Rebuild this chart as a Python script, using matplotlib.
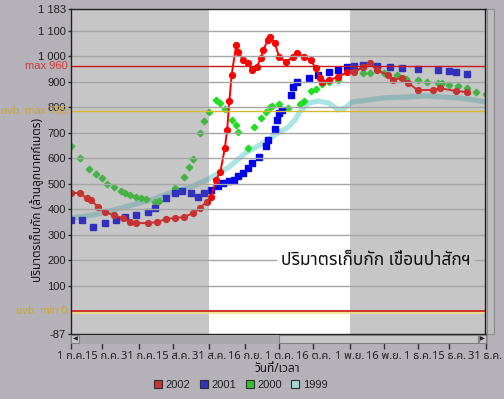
import matplotlib
matplotlib.use("Agg")
import matplotlib.pyplot as plt
from matplotlib import font_manager
from matplotlib.ft2font import FT2Font
from matplotlib.patches import Rectangle
from matplotlib.lines import Line2D

# ---------------- data ----------------
x_tick_days = [0, 14, 30, 45, 61, 77, 92, 107, 123, 138, 153, 167, 183]
x_tick_labels = ["1 ก.ค.", "15 ก.ค.", "31 ก.ค.", "15 ส.ค.", "31 ส.ค.", "16 ก.ย.", "1 ต.ค.",
                 "16 ต.ค.", "1 พ.ย.", "16 พ.ย.", "1 ธ.ค.", "15 ธ.ค.", "31 ธ.ค."]
y_tick_values = [-87, 100, 200, 300, 400, 500, 600, 700, 800, 900, 1000, 1100, 1183]
y_tick_labels = ["-87", "100", "200", "300", "400", "500", "600", "700", "800", "900",
                 "1 000", "1 100", "1 183"]

days_2002 = [0, 4, 7, 9, 12, 15, 19, 23, 26, 29, 34, 38, 42, 46, 50, 54, 57, 60, 62, 64, 66,
             68, 69, 70, 71, 73, 74, 76, 78, 80, 82, 84, 85, 87, 88, 90, 92, 95, 98, 100, 103,
             106, 108, 110, 111, 114, 118, 122, 125, 129, 132, 135, 140, 142, 146, 149, 153,
             160, 163, 170, 175]
vals_2002 = [464, 464, 444, 436, 409, 389, 377, 366, 350, 346, 346, 350, 362, 366, 370, 385,
             405, 429, 448, 515, 546, 640, 710, 824, 926, 1043, 1016, 984, 973, 945, 957, 992,
             1024, 1063, 1074, 1051, 996, 977, 996, 1012, 996, 984, 953, 914, 898, 906, 918,
             937, 937, 957, 973, 945, 926, 906, 914, 894, 867, 867, 874, 863, 859]

days_2001 = [0, 5, 10, 15, 20, 24, 29, 34, 37, 42, 46, 49, 53, 56, 59, 62, 65, 67, 70, 72, 74,
             76, 78, 80, 83, 86, 87, 90, 91, 92, 93, 97, 98, 100, 105, 109, 114, 118, 122, 125,
             129, 135, 141, 146, 153, 162, 167, 170, 175]
vals_2001 = [358, 358, 331, 346, 358, 370, 378, 389, 405, 444, 464, 472, 464, 448, 464, 476,
             490, 503, 510, 515, 530, 542, 561, 581, 604, 648, 671, 714, 750, 777, 789, 847,
             879, 898, 914, 926, 937, 945, 957, 961, 965, 961, 957, 953, 949, 945, 941, 937, 929]

days_2000 = [0, 4, 8, 11, 14, 16, 19, 22, 24, 26, 29, 31, 33, 37, 39, 46, 50, 52, 54, 57, 59,
             61, 64, 66, 68, 71, 73, 74, 78, 81, 84, 86, 88, 89, 92, 96, 101, 103, 106, 108,
             111, 114, 118, 125, 129, 132, 138, 144, 148, 153, 157, 162, 164, 167, 171, 175,
             179, 183]
vals_2000 = [648, 600, 557, 538, 523, 499, 487, 472, 464, 456, 448, 444, 440, 429, 432, 483,
             526, 566, 596, 698, 745, 781, 828, 816, 793, 750, 730, 703, 640, 722, 757, 781,
             800, 804, 812, 796, 812, 824, 863, 871, 890, 898, 906, 945, 933, 933, 933, 926,
             910, 906, 898, 894, 894, 886, 883, 875, 859, 851]

days_1999 = [0, 10, 19, 27, 35, 44, 53, 60, 70, 77, 85, 90, 96, 99, 101, 105, 109, 114, 118,
             121, 124, 131, 138, 149, 157, 163, 171, 178, 183]
vals_1999 = [365, 378, 397, 417, 436, 464, 487, 515, 566, 620, 659, 691, 722, 750, 781, 816,
             824, 816, 789, 796, 820, 828, 836, 840, 844, 840, 836, 828, 820]

ref_max = 960
ref_avb_max = 785
ref_avb_min = 0
white_band = (61, 123)

title_text = "ปริมาตรเก็บกัก เขื่อนป่าสักฯ"
x_label = "วันที่/เวลา"
y_label = "ปริมาตรเก็บกัก (ล้านลูกบาศก์เมตร)"

# ---------------- fonts ----------------
def find_thai_font():
    pref = ['Noto Sans Thai', 'Noto Sans Thai UI', 'Noto Sans Thai Looped', 'Loma', 'Garuda',
            'Tlwg Typo', 'Sarabun', 'Tahoma', 'Leelawadee', 'Norasi', 'Kinnari']
    found = {}
    for f in font_manager.fontManager.ttflist:
        try:
            cm = FT2Font(f.fname).get_charmap()
            if 0x0E1B in cm and 0x0E01 in cm and 0x0E32 in cm:
                found.setdefault(f.name, f.fname)
        except Exception:
            pass
    for p in pref:
        if p in found:
            return p
    return next(iter(found), None)

thai = find_thai_font()
FAM = ([thai] if thai else []) + ['Liberation Sans', 'DejaVu Sans']
plt.rcParams['font.family'] = ['Liberation Sans', 'DejaVu Sans']

# ---------------- figure ----------------
W, H = 504, 399
fig = plt.figure(figsize=(W / 100, H / 100), dpi=100)
fig.patch.set_facecolor('#b4b1b8')

def fx(px):
    return px / W

def fy(py):
    return 1 - py / H

L, R, T, B = 70.7, 485.5, 9.3, 333.7
ax = fig.add_axes([fx(L), fy(B), fx(R) - fx(L), fy(T) - fy(B)])
ax.set_facecolor('white')
ax.set_xlim(0, 183)
ax.set_ylim(-87, 1183)

c2002 = '#ff0000'
c2001 = '#0000f0'
c2000 = '#22dd22'
c1999 = '#aae4e4'

ax.plot(days_1999, vals_1999, color=c1999, lw=3.8, solid_capstyle='round',
        solid_joinstyle='round', zorder=2)
ax.plot(days_2000, vals_2000, ls='none', marker='D', ms=3.3, color=c2000, mec=c2000, zorder=3)
ax.plot(days_2001, vals_2001, ls='none', marker='s', ms=4.8, color=c2001, mec=c2001, zorder=4)
ax.plot(days_2002, vals_2002, color=c2002, lw=1.4, marker='o', ms=4.2, mec=c2002, zorder=5)

# gray overlay outside the white band
ov = (119 / 255, 119 / 255, 119 / 255, 0.42)
ax.axvspan(0, white_band[0], color=ov, lw=0, zorder=6)
ax.axvspan(white_band[1], 183, color=ov, lw=0, zorder=6)

# grid lines
for v in [100, 300, 400, 500, 600, 700, 800, 900, 1000, 1100]:
    ax.axhline(v, color='#a6a6a6', lw=1, zorder=7)
ax.axhline(200, xmin=0, xmax=0.495, color='#a6a6a6', lw=1, zorder=7)
ax.axhline(200, xmin=0.975, xmax=1, color='#a6a6a6', lw=1, zorder=7)

# reference lines
ax.axhline(ref_max, color='#c81818', lw=1, zorder=8)
ax.axhline(ref_avb_max, color='#d8b830', lw=1, zorder=8)
ax.axhline(ref_avb_min - 4, color='#f0e080', lw=3, alpha=0.8, zorder=8)
ax.axhline(ref_avb_min, color='#c81818', lw=1.2, zorder=9)

ax.text(176.5, 200, title_text, ha='right', va='center', fontsize=12.5, color='#101010',
        family=FAM, zorder=10)

for s in ax.spines.values():
    s.set_color('#202020')
    s.set_linewidth(1)
    s.set_zorder(11)

ax.set_xticks(x_tick_days)
ax.set_xticklabels(x_tick_labels, family=FAM, fontsize=8, color='#202020')
ax.set_yticks(y_tick_values)
ax.set_yticklabels(y_tick_labels, fontsize=8, color='#202020')
ax.tick_params(axis='x', direction='out', length=10.8, width=1, color='#303030', pad=1.5)
ax.tick_params(axis='y', direction='out', length=2.5, width=1, color='#303030', pad=1)

# reference labels on the left
ax.text(-1.2, ref_max, "max 960", ha='right', va='center', fontsize=8, color='#d03a3a')
ax.text(-1.2, ref_avb_max, "avb. max 785", ha='right', va='center', fontsize=8, color='#c8a838')
ax.text(-1.2, ref_avb_min, "avb. min 0", ha='right', va='center', fontsize=8, color='#c8a838')

# axis labels
fig.text(fx(277), fy(369), x_label, ha='center', va='center', fontsize=8.5,
         fontweight='bold', family=FAM, color='#101010')
fig.text(fx(37), fy(200), y_label, ha='center', va='center', rotation=90, fontsize=8.5,
         fontweight='bold', family=FAM, color='#101010')

# scrollbars (decoration)
def rect(x0, y0, x1, y1, fc, ec='none', lw=0.8):
    fig.add_artist(Rectangle((fx(x0), fy(y1)), fx(x1) - fx(x0), fy(y0) - fy(y1),
                             transform=fig.transFigure, facecolor=fc, edgecolor=ec, lw=lw,
                             zorder=20))

rect(70, 334.5, 486, 343.5, '#a9a9ad')
rect(71, 335, 79, 343, '#c6c6c6', '#808080')
fig.text(fx(75), fy(339), "◀", ha='center', va='center', fontsize=4.5, color='#202020',
         family='DejaVu Sans', zorder=21)
rect(279, 335, 478, 343, '#c6c6c6', '#808080')
rect(479, 335, 486, 343, '#c6c6c6', '#808080')
fig.text(fx(482.5), fy(339), "▶", ha='center', va='center', fontsize=4.5, color='#202020',
         family='DejaVu Sans', zorder=21)
rect(487, 9, 494, 334, '#bdbdbd', '#8c8c8c')

# legend
handles = [Line2D([], [], ls='none', marker='s', ms=5.5, mfc=c, mec='#303030', mew=0.8)
           for c in ['#c83232', '#3232c0', '#30c030', '#a8d4d4']]
fig.legend(handles, ['2002', '2001', '2000', '1999'], loc='center', ncol=4,
           bbox_to_anchor=(fx(240), fy(385)), frameon=False, fontsize=8,
           handletextpad=0.2, columnspacing=0.7, handlelength=1.0, labelcolor='#202020')

fig.savefig('out.png', dpi=100, facecolor=fig.get_facecolor())
